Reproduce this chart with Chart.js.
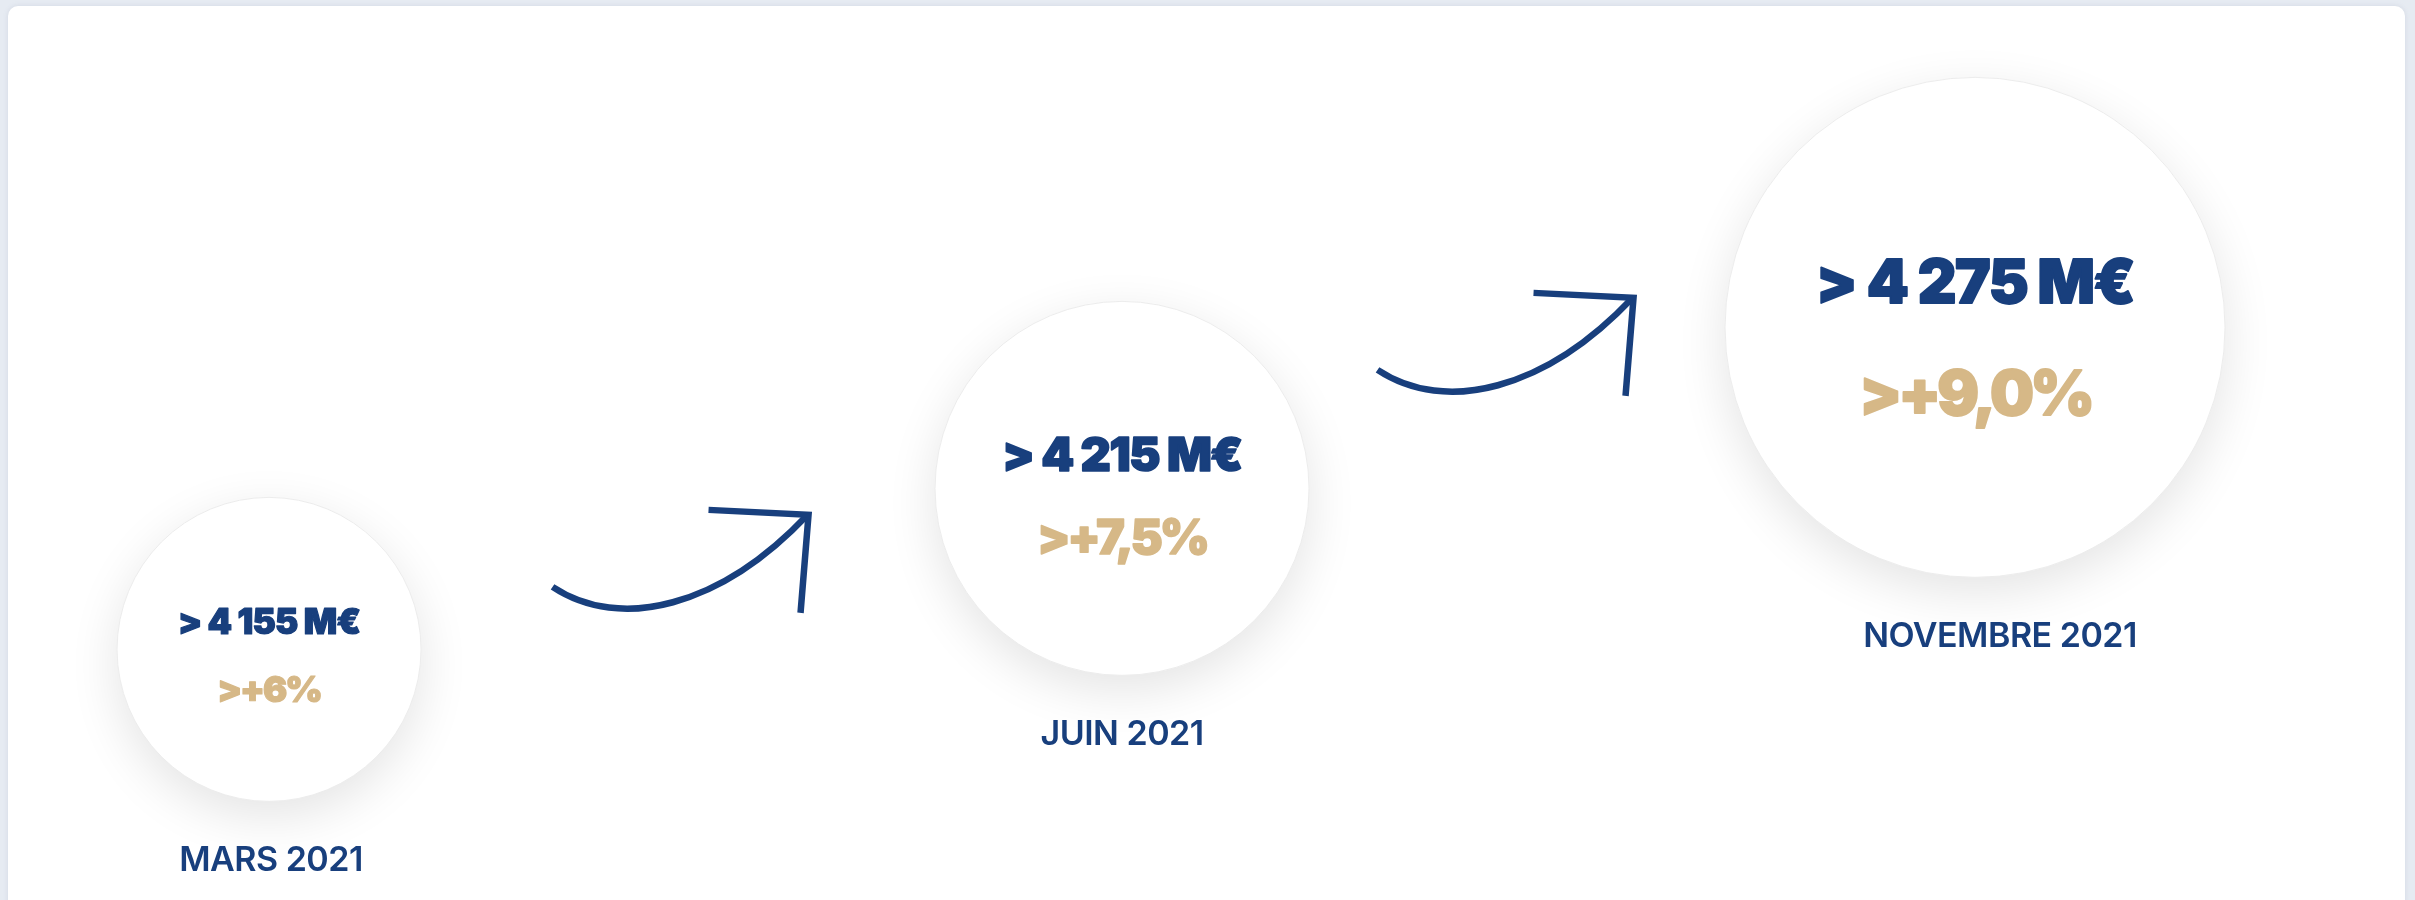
<!DOCTYPE html>
<html>
<head>
<meta charset="utf-8">
<script src="https://cdn.jsdelivr.net/npm/chart.js@4.4.1/dist/chart.umd.min.js"></script>
<style>
  html, body { margin: 0; padding: 0; width: 2415px; height: 900px; overflow: hidden; background: #e6ebf2; }
  #card { position: absolute; left: 8px; top: 6px; width: 2397px; height: 1000px; background: #ffffff; border-radius: 10px; box-shadow: 0 0 5px rgba(120,135,160,0.18); }
  #wrap { position: absolute; left: 0; top: 0; width: 2415px; height: 900px; }
</style>
</head>
<body>
<div id="card"></div>
<div id="wrap"><canvas id="c" width="2415" height="900"></canvas></div>
<script>
// ---- data ----
const periods = ['MARS 2021', 'JUIN 2021', 'NOVEMBRE 2021'];
const amounts = [4155, 4215, 4275];            // M€
const growthLabels = ['>+6%', '>+7,5%', '>+9,0%'];
const amountLabels = ['> 4 155 M€', '> 4 215 M€', '> 4 275 M€'];

// ---- styles ----
const BLUE = '#183f7d';
const GOLD = '#d6b887';
const circleRadius = [152, 187, 250];
const valueFont = [35, 47, 60];
const pctFont = [36, 48, 62];
const valueSpacing = [-0.8, -1.5, -1.5];
const pctSpacing = [-2, -3, -4];
const textStroke = [1.2, 1.6, 1.8];
const labelFont = 34;
const labelDx = [2, 0, 25];
const arrowOffsets = [[-15, -7], [-43, -63]];

const points = amounts.map((v, i) => ({ x: i, y: v, r: circleRadius[i] }));

const shadowPlugin = {
  id: 'circleShadow',
  beforeDatasetDraw(chart) {
    const ctx = chart.ctx;
    ctx.save();
    ctx.shadowColor = 'rgba(0,0,0,0.11)';
    ctx.shadowBlur = 50;
    ctx.shadowOffsetX = 0;
    ctx.shadowOffsetY = 15;
  },
  afterDatasetDraw(chart) { chart.ctx.restore(); }
};

function drawArrow(ctx, cx, cy) {
  ctx.save();
  ctx.strokeStyle = BLUE;
  ctx.lineWidth = 6.5;
  ctx.lineCap = 'butt';
  ctx.lineJoin = 'miter';
  ctx.beginPath();
  ctx.moveTo(cx - 128, cy + 25);
  ctx.bezierCurveTo(cx - 60, cy + 70, cx + 40, cy + 45, cx + 127, cy - 47);
  ctx.stroke();
  ctx.beginPath();
  ctx.moveTo(cx + 28, cy - 52);
  ctx.lineTo(cx + 128, cy - 47);
  ctx.lineTo(cx + 120, cy + 51);
  ctx.stroke();
  ctx.restore();
}

function heavyText(ctx, txt, x, y, color, font, spacing, stroke) {
  ctx.font = font;
  ctx.letterSpacing = spacing + 'px';
  ctx.fillStyle = color;
  ctx.strokeStyle = color;
  ctx.lineWidth = stroke;
  ctx.lineJoin = 'round';
  ctx.fillText(txt, x, y);
  if (stroke > 0) ctx.strokeText(txt, x, y);
}

const textPlugin = {
  id: 'circleText',
  afterDatasetsDraw(chart) {
    const ctx = chart.ctx;
    const els = chart.getDatasetMeta(0).data;
    for (let i = 0; i < els.length - 1; i++) {
      const mx = (els[i].x + els[i + 1].x) / 2 + arrowOffsets[i][0];
      const my = (els[i].y + els[i + 1].y) / 2 + arrowOffsets[i][1];
      drawArrow(ctx, mx, my);
    }
    els.forEach((el, i) => {
      const r = circleRadius[i];
      ctx.save();
      ctx.textAlign = 'center';
      ctx.textBaseline = 'alphabetic';
      heavyText(ctx, amountLabels[i], el.x, el.y - 0.185 * r + valueFont[i] * 0.36,
        BLUE, `900 ${valueFont[i]}px Inter`, valueSpacing[i], textStroke[i]);
      heavyText(ctx, growthLabels[i], el.x, el.y + 0.26 * r + pctFont[i] * 0.36,
        GOLD, `900 ${pctFont[i]}px Inter`, pctSpacing[i], textStroke[i]);
      heavyText(ctx, periods[i], el.x + labelDx[i], el.y + r + 57 + labelFont * 0.36,
        BLUE, `600 ${labelFont}px Inter`, -0.5, 0);
      ctx.restore();
    });
  }
};

new Chart(document.getElementById('c'), {
  type: 'bubble',
  data: {
    datasets: [{
      label: 'Montant',
      data: points,
      backgroundColor: '#ffffff',
      borderColor: '#ececec',
      borderWidth: 1,
      hoverRadius: 0,
      clip: false
    }]
  },
  options: {
    responsive: false,
    animation: false,
    events: [],
    layout: { padding: 0, autoPadding: false },
    plugins: { legend: { display: false }, tooltip: { enabled: false } },
    scales: {
      x: { type: 'linear', display: false, min: -0.3154, max: 2.5158 },
      y: { type: 'linear', display: false, min: 4061.6, max: 4397.0 }
    }
  },
  plugins: [shadowPlugin, textPlugin]
});
</script>
</body>
</html>
